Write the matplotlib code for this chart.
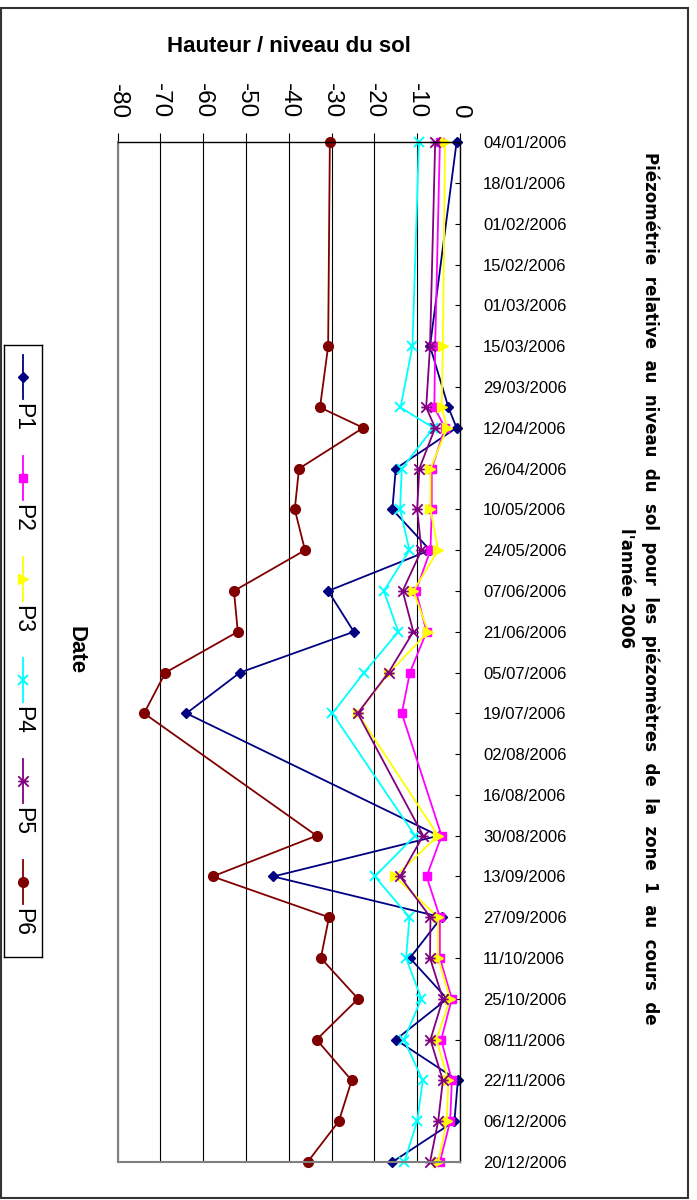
import matplotlib
matplotlib.use('Agg')
import matplotlib.pyplot as plt
import matplotlib.dates as mdates
from matplotlib.path import Path
from matplotlib.patches import Rectangle
import pandas as pd

# ---------------- data ----------------
dates = ['04/01/2006', '15/03/2006', '05/04/2006', '12/04/2006', '26/04/2006',
         '10/05/2006', '24/05/2006', '07/06/2006', '21/06/2006', '05/07/2006',
         '19/07/2006', '30/08/2006', '13/09/2006', '27/09/2006', '11/10/2006',
         '25/10/2006', '08/11/2006', '22/11/2006', '06/12/2006', '20/12/2006']
P1 = [-0.8, -7.0, -2.7, -0.8, -15.0, -15.8, -7.0, -30.8, -24.8, -51.4,
      -63.9, -5.0, -43.6, -4.3, -11.7, -3.0, -15.0, -0.5, -1.3, -15.8]
P2 = [-4.7, -5.8, -6.0, -3.5, -6.6, -6.6, -6.9, -10.3, -7.8, -11.7,
      -13.6, -4.3, -7.8, -4.7, -4.7, -1.9, -4.4, -1.9, -2.3, -4.7]
P3 = [-3.5, -4.0, -4.3, -3.0, -6.9, -6.9, -5.1, -10.9, -7.4, -16.5,
      -23.9, -5.1, -15.2, -5.1, -5.1, -2.3, -5.5, -2.7, -3.1, -5.1]
P4 = [-9.6, -11.1, -13.9, -6.2, -13.6, -14.0, -11.8, -17.8, -14.4, -22.4,
      -29.8, -10.5, -19.9, -11.8, -12.6, -9.0, -13.1, -8.7, -10.0, -13.0]
P5 = [-5.8, -7.0, -7.9, -5.8, -9.5, -10.0, -9.0, -13.4, -10.9, -16.7,
      -23.9, -8.6, -14.0, -6.9, -7.0, -4.0, -6.9, -4.0, -5.1, -7.0]
P6 = [-30.4, -30.8, -32.7, -22.6, -37.6, -38.6, -36.2, -52.8, -51.9, -68.8,
      -73.8, -33.5, -57.8, -30.6, -32.5, -23.8, -33.5, -25.3, -28.3, -35.6]
series_names = ['P1', 'P2', 'P3', 'P4', 'P5', 'P6']
value_ticks = [-80, -70, -60, -50, -40, -30, -20, -10, 0]
date_tick_start = '04/01/2006'
date_tick_end = '20/12/2006'

title_line1 = "Piézométrie relative au niveau du sol pour les piézomètres de la zone 1 au cours de"
title_line2 = "l'année 2006"
value_title = 'Hauteur / niveau du sol'
date_title = 'Date'

# ---------------- styles ----------------
star = Path([(-1, -1), (1, 1), (-1, 1), (1, -1), (-1, 0), (1, 0)],
            [Path.MOVETO, Path.LINETO] * 3)
styles = {
    'P1': dict(color='#000080', marker='D', ms=5.5, mfc='#000080', mec='#000080', mew=1),
    'P2': dict(color='#FF00FF', marker='s', ms=6, mfc='#FF00FF', mec='#FF00FF', mew=1),
    'P3': dict(color='#FFFF00', marker='>', ms=7.5, mfc='#FFFF00', mec='#FFFF00', mew=1),
    'P4': dict(color='#00FFFF', marker='x', ms=7.5, mfc='none', mec='#00FFFF', mew=1.4),
    'P5': dict(color='#800080', marker=star, ms=7.5, mfc='none', mec='#800080', mew=1.3),
    'P6': dict(color='#800000', marker='o', ms=7, mfc='#800000', mec='#800000', mew=1),
}
data = {'P1': P1, 'P2': P2, 'P3': P3, 'P4': P4, 'P5': P5, 'P6': P6}

W, H = 697, 1200
fig = plt.figure(figsize=(W / 100, H / 100), dpi=100)
fig.patch.set_facecolor('white')

def fx(px):
    return px / W

def fy(py):
    return 1 - py / H

# plot area
left, right, top, bottom = 117.5, 460, 142.3, 1162
ax = fig.add_axes([fx(left), fy(bottom), fx(right - left), (bottom - top) / H])

d = pd.to_datetime(dates, dayfirst=True)
for name in series_names:
    st = styles[name]
    ax.plot(data[name], d, lw=1.3, clip_on=False, **st)

ax.set_xlim(-80, 0)
d0 = pd.to_datetime(date_tick_start, dayfirst=True)
d1 = pd.to_datetime(date_tick_end, dayfirst=True)
ax.set_ylim(d1, d0)

# value axis on top
ax.xaxis.tick_top()
ax.set_xticks(value_ticks)
ax.set_xticklabels([str(v) for v in value_ticks], rotation=-90,
                   fontsize=17.5, family='Liberation Sans')
ax.tick_params(axis='x', direction='out', length=6.5, width=0.8, pad=10.5, color='black')
ax.grid(axis='x', color='black', lw=0.8)

# date axis on right
yt = pd.date_range(d0, d1, freq='14D')
ax.set_yticks(yt)
ax.yaxis.set_major_formatter(mdates.DateFormatter('%d/%m/%Y'))
ax.yaxis.tick_right()
ax.tick_params(axis='y', direction='in', length=3.6, width=0.8, pad=16.5,
               labelsize=12, color='black')
for lab in ax.get_yticklabels():
    lab.set_family('Liberation Sans')

for s in ['top', 'right']:
    ax.spines[s].set_color('black')
    ax.spines[s].set_linewidth(1.0)
for s in ['left', 'bottom']:
    ax.spines[s].set_color('#808080')
    ax.spines[s].set_linewidth(1.5)
ax.set_axisbelow(True)

# titles
fig.text(fx(289), fy(47), value_title, ha='center', va='center',
         fontsize=16, fontweight='bold', family='Liberation Sans')
title = title_line1.replace(' ', '  ') + '\n' + title_line2
fig.text(fx(638.5), fy(588), title, rotation=-90, ha='center', va='center',
         fontsize=12, fontweight='bold', family='DejaVu Sans',
         multialignment='center', linespacing=1.4)
fig.text(fx(76), fy(650), date_title, rotation=-90, ha='center', va='center',
         fontsize=16, fontweight='bold', family='Liberation Sans')

# legend (rotated, drawn manually)
lg_l, lg_r, lg_t, lg_b = 4, 42, 345, 957
lax = fig.add_axes([fx(lg_l), fy(lg_b), fx(lg_r - lg_l), (lg_b - lg_t) / H])
lax.set_xlim(lg_l, lg_r)
lax.set_ylim(lg_b, lg_t)
lax.set_xticks([])
lax.set_yticks([])
for s in lax.spines.values():
    s.set_color('black')
    s.set_linewidth(1.0)
for i, name in enumerate(series_names):
    st = styles[name]
    yc = 377 + 101 * i
    lax.plot([23, 23], [yc - 22, yc + 22], color=st['color'], lw=1.3)
    mk = {k: v for k, v in st.items() if k != 'color'}
    lax.plot([23], [yc], linestyle='none', **mk)
    lax.text(23, yc + 40, name, rotation=-90, ha='center', va='center',
             fontsize=16.5, family='Liberation Sans')

# outer border
fig.add_artist(Rectangle((fx(0.5), fy(1197.5)), fx(688) - fx(0.5), fy(8) - fy(1197.5),
                         transform=fig.transFigure, fill=False,
                         edgecolor='#333333', lw=1.5))

fig.savefig('out.png', dpi=100)
